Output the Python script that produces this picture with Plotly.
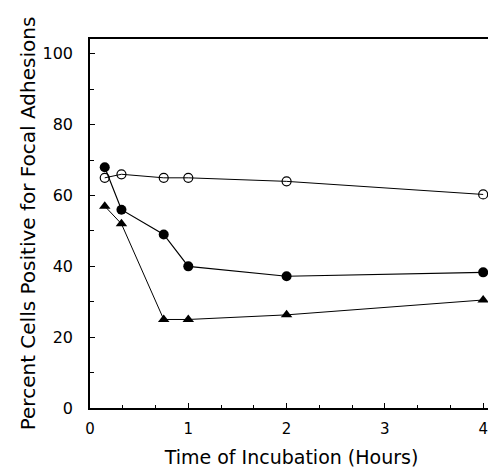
import plotly.graph_objects as go

time_h = [0.15, 0.32, 0.75, 1.0, 2.0, 4.0]
open_circles = [65, 66, 65, 65, 64, 60.3]
filled_circles = [68, 56, 49, 40, 37.2, 38.3]
triangles = [57, 52, 25, 25, 26.3, 30.5]

x_ticks = [0, 1, 2, 3, 4]
y_ticks = [0, 20, 40, 60, 80, 100]

fig = go.Figure()
fig.add_trace(go.Scatter(x=time_h, y=open_circles, mode="lines+markers",
                         line=dict(color="black", width=1),
                         marker=dict(symbol="circle-open", size=9, color="black", line=dict(width=1.2))))
fig.add_trace(go.Scatter(x=time_h, y=filled_circles, mode="lines+markers",
                         line=dict(color="black", width=1.2),
                         marker=dict(symbol="circle", size=10, color="black")))
fig.add_trace(go.Scatter(x=time_h, y=triangles, mode="lines+markers",
                         line=dict(color="black", width=1),
                         marker=dict(symbol="triangle-up", size=10, color="black")))

font_family = "DejaVu Sans, Liberation Sans, sans-serif"
# page body adds an 8px margin, so the figure is sized to fit inside the window
fig.update_layout(
    width=488, height=464,
    margin=dict(l=82, r=3, t=31, b=64),
    paper_bgcolor="white", plot_bgcolor="white",
    showlegend=False,
    font=dict(family=font_family, color="black", size=15),
)
fig.update_xaxes(
    range=[0, 4.1], tickvals=x_ticks, ticktext=[str(v) for v in x_ticks],
    ticks="inside", ticklen=5, tickcolor="black", tickwidth=1,
    minor=dict(dtick=1/3, tick0=0, ticks="inside", ticklen=3, tickcolor="black"),
    showline=True, linecolor="black", linewidth=1.5, mirror=True,
    showgrid=False, zeroline=False, automargin=False,
    tickfont=dict(size=15, family=font_family),
    ticklabelstandoff=6,
    title=dict(text="Time of Incubation (Hours)", font=dict(size=19, family=font_family), standoff=14),
)
fig.update_yaxes(
    range=[0, 104.2], tickvals=y_ticks, ticktext=[str(v) for v in y_ticks],
    ticks="inside", ticklen=5, tickcolor="black", tickwidth=1,
    minor=dict(dtick=10, tick0=0, ticks="inside", ticklen=4, tickcolor="black"),
    showline=True, linecolor="black", linewidth=1.5, mirror=True,
    showgrid=False, zeroline=False, automargin=False,
    tickfont=dict(size=16, family=font_family),
    ticklabelstandoff=12,
    title=dict(text="Percent Cells Positive for Focal Adhesions", font=dict(size=20, family=font_family), standoff=2),
)

fig.write_html("out.html")
